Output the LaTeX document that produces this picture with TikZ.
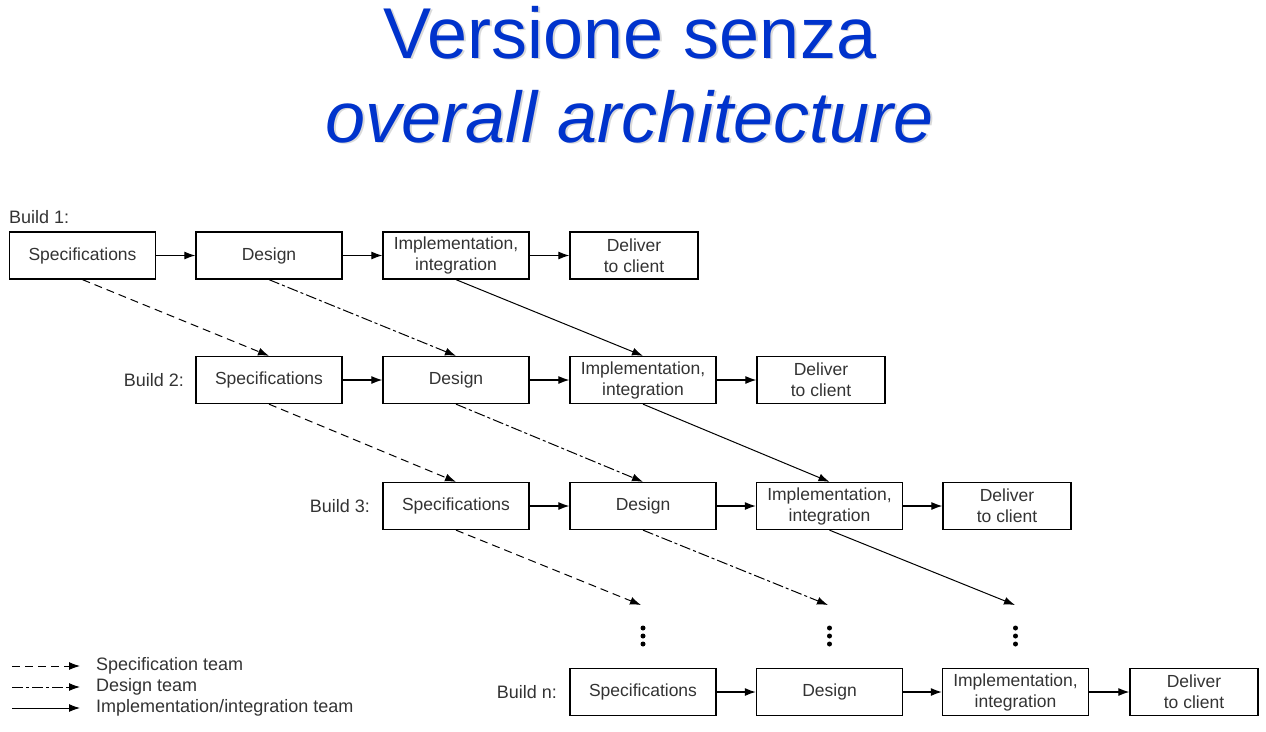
\documentclass[tikz,border=0pt]{standalone}
\usepackage{fontspec}
\setmainfont{Liberation Sans}
\usetikzlibrary{arrows.meta}
\definecolor{titleblue}{HTML}{0033CC}
\definecolor{inkgray}{HTML}{333333}
\begin{document}
\begin{tikzpicture}[x=1pt,y=-1pt,
  stage/.style={draw, line width=1.3pt, minimum width=146pt, minimum height=47pt,
    inner sep=0pt, align=center, text=inkgray,
    font=\fontsize{17.5}{21}\selectfont},
  deliver/.style={stage, minimum width=128pt},
  buildlabel/.style={text=inkgray, font=\fontsize{18}{21}\selectfont, inner sep=0pt},
  tip/.style={-{Latex[length=11pt,width=8pt]}},
  flow/.style={tip, line width=1.2pt},
  specteam/.style={tip, line width=1pt, dash pattern=on 8pt off 5pt},
  designteam/.style={tip, line width=1pt, dash pattern=on 11pt off 3pt on 3pt off 3pt},
  implteam/.style={tip, line width=1pt},
  titletext/.style={font=\fontsize{72}{80}\selectfont, anchor=base, inner sep=0pt},
  dot/.style={circle, fill=black, inner sep=0pt, minimum size=5pt},
]
\useasboundingbox (0,0) rectangle (1266,731);

% title with a light drop shadow
\node[titletext, text=black!15] at (631.5,59.5) {Versione senza};
\node[titletext, text=titleblue] (t1) at (630,58) {Versione senza};
\node[titletext, text=black!15] at (631.5,143.5) {\itshape overall architecture};
\node[titletext, text=titleblue] (t2) at (630,142) {\itshape overall architecture};

% build 1
\node[buildlabel, anchor=west] (b1) at (9,217) {Build 1:};
\node[stage] (s1) at (82.5,255.5) {Specifications};
\node[stage] (d1) at (269,255.5) {Design};
\node[stage] (i1) at (456,255.5) {Implementation,\\integration};
\node[deliver] (c1) at (634,255.5) {Deliver\\to client};

% build 2
\node[buildlabel, anchor=east] (b2) at (184,380) {Build 2:};
\node[stage] (s2) at (269,380) {Specifications};
\node[stage] (d2) at (456,380) {Design};
\node[stage] (i2) at (643,380) {Implementation,\\integration};
\node[deliver] (c2) at (821,380) {Deliver\\to client};

% build 3
\node[buildlabel, anchor=east] (b3) at (370,506) {Build 3:};
\node[stage] (s3) at (456,506) {Specifications};
\node[stage] (d3) at (643,506) {Design};
\node[stage] (i3) at (829.5,506) {Implementation,\\integration};
\node[deliver] (c3) at (1007,506) {Deliver\\to client};

% build n
\node[buildlabel, anchor=east] (bn) at (557,692) {Build n:};
\node[stage] (sn) at (643,692) {Specifications};
\node[stage] (dn) at (829.5,692) {Design};
\node[stage] (in) at (1015.5,692) {Implementation,\\integration};
\node[deliver] (cn) at (1194,692) {Deliver\\to client};

% flow inside each build
\foreach \r in {1,2,3,n} {
  \draw[flow] (s\r) -- (d\r);
  \draw[flow] (d\r) -- (i\r);
  \draw[flow] (i\r) -- (c\r);
}

% hand-over between builds
\draw[specteam] (s1.south) -- (s2.north);
\draw[designteam] (d1.south) -- (d2.north);
\draw[implteam] (i1.south) -- (i2.north);
\draw[specteam] (s2.south) -- (s3.north);
\draw[designteam] (d2.south) -- (d3.north);
\draw[implteam] (i2.south) -- (i3.north);

% continuation towards build n
\coordinate (e1) at (641,605);
\coordinate (e2) at (828,605);
\coordinate (e3) at (1015,605);
\draw[specteam] (s3.south) -- (e1);
\draw[designteam] (d3.south) -- (e2);
\draw[implteam] (i3.south) -- (e3);

\foreach \x/\n in {643/a,829.5/b,1015.5/c} {
  \node[dot] (\n1) at (\x,628) {};
  \node[dot] (\n2) at (\x,636) {};
  \node[dot] (\n3) at (\x,644) {};
}

% legend
\coordinate (l1a) at (12,666); \coordinate (l1b) at (80,666);
\coordinate (l2a) at (12,687); \coordinate (l2b) at (80,687);
\coordinate (l3a) at (12,708); \coordinate (l3b) at (80,708);
\draw[specteam] (l1a) -- (l1b);
\draw[designteam] (l2a) -- (l2b);
\draw[implteam] (l3a) -- (l3b);
\node[buildlabel, anchor=west] (lt1) at (96,666) {Specification team};
\node[buildlabel, anchor=west] (lt2) at (96,687) {Design team};
\node[buildlabel, anchor=west] (lt3) at (96,708) {Implementation/integration team};
\end{tikzpicture}
\end{document}
